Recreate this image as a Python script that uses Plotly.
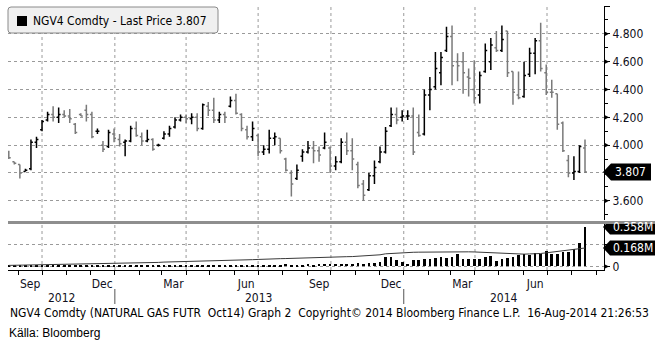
import plotly.graph_objects as go
import pandas as pd

# ---------------- data ----------------
dates = pd.date_range("2012-08-20", periods=105, freq="7D")

opens = [3.95,3.88,3.86,3.81,3.83,4.02,4.11,4.18,4.22,4.20,
         4.22,4.21,4.15,4.22,4.25,4.22,4.10,4.00,3.99,4.08,
         4.04,4.02,4.03,4.12,4.06,4.03,4.04,4.00,4.05,4.08,
         4.13,4.18,4.20,4.19,4.20,4.12,4.28,4.25,4.18,4.22,
         4.28,4.32,4.22,4.11,4.06,4.07,3.95,3.97,4.05,4.05,
         3.90,3.80,3.76,3.92,3.95,3.98,3.96,3.98,3.98,3.85,
         3.88,4.02,3.96,3.86,3.72,3.68,3.78,3.88,3.95,4.14,
         4.22,4.20,4.21,4.21,4.09,4.08,4.36,4.42,4.52,4.68,
         4.78,4.60,4.60,4.49,4.40,4.36,4.53,4.60,4.70,4.68,
         4.82,4.53,4.36,4.35,4.51,4.66,4.75,4.52,4.38,4.37,
         4.16,3.89,3.80,3.81,3.98]
highs = [3.96,3.88,3.86,3.83,4.04,4.06,4.18,4.24,4.28,4.27,
         4.25,4.26,4.16,4.23,4.29,4.24,4.12,4.03,4.11,4.12,
         4.08,4.04,4.14,4.17,4.09,4.11,4.05,4.01,4.10,4.14,
         4.20,4.22,4.22,4.23,4.23,4.30,4.31,4.34,4.24,4.24,
         4.35,4.37,4.23,4.14,4.17,4.08,4.00,4.11,4.09,4.05,
         3.91,3.82,3.86,3.97,4.03,4.03,3.99,4.09,3.99,3.92,
         4.05,4.09,4.05,3.88,3.75,3.80,3.89,3.99,4.13,4.27,
         4.27,4.25,4.25,4.27,4.22,4.40,4.49,4.67,4.67,4.85,
         4.86,4.66,4.67,4.55,4.61,4.53,4.73,4.77,4.82,4.86,
         4.82,4.53,4.53,4.60,4.70,4.77,4.88,4.58,4.47,4.37,
         4.17,3.93,3.92,4.00,4.04]
lows  = [3.90,3.86,3.76,3.81,3.82,3.98,4.10,4.17,4.17,4.16,
         4.20,4.16,4.08,4.21,4.17,4.05,4.08,3.95,3.98,4.02,
         3.99,3.92,4.02,4.06,4.00,4.02,3.96,3.99,4.04,4.06,
         4.12,4.17,4.16,4.15,4.10,4.11,4.21,4.16,4.16,4.16,
         4.27,4.22,4.10,4.04,4.03,3.92,3.93,3.94,4.00,3.94,
         3.81,3.63,3.75,3.88,3.94,3.87,3.88,3.97,3.80,3.82,
         3.87,3.93,3.82,3.69,3.60,3.67,3.72,3.87,3.94,4.13,
         4.15,4.17,4.18,3.93,4.06,4.07,4.25,4.40,4.43,4.67,
         4.43,4.46,4.37,4.35,4.30,4.30,4.52,4.54,4.67,4.67,
         4.49,4.29,4.33,4.34,4.49,4.51,4.53,4.36,4.34,4.11,
         3.95,3.77,3.75,3.80,3.80]
closes = [3.91,3.87,3.80,3.82,4.02,4.04,4.17,4.22,4.20,4.22,
          4.21,4.19,4.09,4.21,4.22,4.06,4.10,3.97,4.09,4.05,
          4.01,4.03,4.12,4.07,4.03,4.04,3.97,4.00,4.08,4.12,
          4.18,4.20,4.19,4.20,4.12,4.29,4.25,4.18,4.22,4.20,
          4.32,4.23,4.12,4.06,4.12,3.95,3.97,4.05,4.06,3.96,
          3.82,3.72,3.82,3.95,3.98,3.96,3.93,4.02,3.85,3.88,
          4.02,3.96,3.90,3.71,3.64,3.78,3.84,3.95,4.10,4.22,
          4.18,4.21,4.21,3.95,4.07,4.36,4.40,4.55,4.63,4.78,
          4.57,4.57,4.52,4.48,4.34,4.50,4.68,4.72,4.68,4.76,
          4.52,4.38,4.34,4.50,4.66,4.75,4.55,4.38,4.38,4.15,
          3.96,3.80,3.81,3.99,3.807]

volume_m = [0.005,0.006,0.005,0.007,0.006,0.008,0.006,0.007,0.008,0.007,
            0.008,0.007,0.009,0.008,0.010,0.009,0.008,0.010,0.011,0.010,
            0.012,0.010,0.014,0.011,0.013,0.012,0.015,0.010,0.013,0.014,
            0.012,0.011,0.014,0.012,0.013,0.015,0.012,0.011,0.014,0.013,
            0.012,0.014,0.015,0.013,0.016,0.014,0.012,0.018,0.015,0.017,
            0.020,0.016,0.014,0.018,0.020,0.017,0.022,0.019,0.024,0.020,
            0.022,0.026,0.024,0.030,0.025,0.028,0.035,0.038,0.090,0.085,
            0.060,0.040,0.025,0.055,0.060,0.065,0.070,0.080,0.085,0.080,
            0.090,0.110,0.070,0.065,0.065,0.070,0.085,0.095,0.050,0.065,
            0.075,0.090,0.100,0.110,0.105,0.120,0.115,0.140,0.115,0.110,
            0.130,0.130,0.160,0.210,0.358]
open_int_m = [0.010,0.011,0.011,0.012,0.012,0.013,0.013,0.014,0.014,0.015,
              0.015,0.016,0.017,0.018,0.018,0.019,0.020,0.021,0.022,0.024,
              0.025,0.027,0.028,0.030,0.031,0.033,0.035,0.037,0.040,0.041,
              0.043,0.044,0.046,0.047,0.048,0.050,0.052,0.055,0.056,0.057,
              0.058,0.059,0.060,0.061,0.062,0.064,0.067,0.068,0.070,0.071,
              0.072,0.074,0.075,0.076,0.078,0.079,0.082,0.084,0.086,0.087,
              0.088,0.089,0.090,0.092,0.095,0.098,0.102,0.106,0.115,0.119,
              0.123,0.127,0.128,0.129,0.130,0.131,0.131,0.132,0.132,0.133,
              0.133,0.134,0.134,0.133,0.132,0.130,0.127,0.125,0.122,0.119,
              0.116,0.112,0.111,0.112,0.114,0.115,0.118,0.124,0.130,0.136,
              0.142,0.148,0.153,0.158,0.168]

price_ticks = [3.6, 3.8, 4.0, 4.2, 4.4, 4.6, 4.8, 5.0]
# 3.800 is hidden behind the last-price tag in the reference
price_tick_text = ["3.600", "", "4.000", "4.200", "4.400", "4.600", "4.800", ""]
month_tick_dates = ["2012-09-16", "2012-12-16", "2013-03-16", "2013-06-16",
                    "2013-09-16", "2013-12-16", "2014-03-16", "2014-06-16"]
month_tick_text = ["Sep", "Dec", "Mar", "Jun", "Sep", "Dec", "Mar", "Jun"]
quarter_dates = ["2012-10-01", "2013-01-01", "2013-04-01", "2013-07-01",
                 "2013-10-01", "2014-01-01", "2014-04-01", "2014-07-01"]
year_labels = ["2012", "2013", "2014"]
year_label_dates = ["2012-10-25", "2013-07-02", "2014-05-08"]
year_sep_dates = ["2013-01-01", "2014-01-01"]

last_price = 3.807
last_vol_m = volume_m[-1]
last_oi_m = open_int_m[-1]

# ---------------- geometry helpers ----------------
W, H = 655, 350
L, R, T, B = 8, 51, 6, 80
PW = W - L - R
PH = H - T - B
def X(px):
    return (px - L) / PW
def Y(py):
    return (H - B - py) / PH

P_RANGE = [3.462, 5.0]
V_RANGE = [-32000, 386000]
p_per_px = (P_RANGE[1] - P_RANGE[0]) / (220 - 6)
v_per_px = (V_RANGE[1] - V_RANGE[0]) / (270 - 224)

FONT = "Tahoma, DejaVu Sans Condensed, DejaVu Sans, sans-serif"
GRID = "#9a9a9a"

fig = go.Figure()
fig.add_trace(go.Ohlc(
    x=dates, open=opens, high=highs, low=lows, close=closes,
    xaxis="x", yaxis="y",
    increasing=dict(line=dict(color="#000000", width=1.5)),
    decreasing=dict(line=dict(color="#7a7a7a", width=1.5)),
    tickwidth=0.35, showlegend=False, hoverinfo="skip"))
fig.add_trace(go.Bar(
    x=dates, y=[v * 1e6 for v in volume_m], xaxis="x2", yaxis="y2",
    marker=dict(color="#000000", line=dict(width=0)),
    width=3.4 * 86400000, showlegend=False))
fig.add_trace(go.Scatter(
    x=dates, y=[v * 1e6 for v in open_int_m], xaxis="x2", yaxis="y2",
    mode="lines", line=dict(color="#3a3a3a", width=1), showlegend=False))

xr = ["2012-08-19", "2014-09-11"]
fig.update_layout(
    width=W, height=H, margin=dict(l=L, r=R, t=T, b=B),
    paper_bgcolor="white", plot_bgcolor="white",
    font=dict(family=FONT, size=11, color="#000000"),
    bargap=0,
    xaxis=dict(domain=[0, 1], anchor="y", range=xr, matches="x2",
               showticklabels=False, showgrid=False, showline=False,
               zeroline=False, ticks="", rangeslider=dict(visible=False)),
    yaxis=dict(domain=[Y(220), 1], anchor="x", side="right", range=P_RANGE,
               tickmode="array", tickvals=price_ticks, ticktext=price_tick_text,
               showgrid=True, gridcolor=GRID, griddash="dot", gridwidth=1,
               showline=True, linecolor="#000000", linewidth=1,
               ticks="outside", ticklen=5, tickcolor="#000000",
               minor=dict(dtick=0.1, tick0=3.5, ticks="outside", ticklen=3,
                          tickcolor="#000000", showgrid=False),
               zeroline=False, tickfont=dict(size=12, color="#101020")),
    xaxis2=dict(domain=[0, 1], anchor="y2", range=xr, type="date",
                tickmode="array", tickvals=month_tick_dates, ticktext=month_tick_text,
                ticks="", showgrid=False, showline=True, linecolor="#000000",
                zeroline=False, ticklabelstandoff=3,
                tickfont=dict(size=12, color="#101020"),
                minor=dict(dtick="M1", tick0="2012-09-01", ticks="outside",
                           ticklen=4, tickcolor="#000000", showgrid=False)),
    yaxis2=dict(domain=[0, Y(224)], anchor="x2", side="right", range=V_RANGE,
                tickmode="array", tickvals=[0, 200000], ticktext=["0", ""],
                showgrid=True, gridcolor=GRID, griddash="dot",
                showline=True, linecolor="#000000", ticks="outside",
                ticklen=5, tickcolor="#000000", zeroline=False,
                tickfont=dict(size=12, color="#101020")),
)

shapes = []
for d in quarter_dates:
    for yr in ("y domain", "y2 domain"):
        shapes.append(dict(type="line", xref="x", yref=yr, x0=d, x1=d, y0=0, y1=1,
                           line=dict(color=GRID, width=1, dash="dot"), layer="below"))
shapes.append(dict(type="line", xref="paper", yref="paper", x0=X(8), x1=X(655),
                   y0=Y(222.5), y1=Y(222.5), line=dict(color="#8e8e8e", width=3)))
for v in price_ticks[:-1]:
    d = 2.6 * p_per_px
    shapes.append(dict(type="path", xref="paper", yref="y",
                       path=f"M {X(604)},{v + d} L {X(609)},{v} L {X(604)},{v - d} Z",
                       fillcolor="#000000", line=dict(width=0)))
d0 = 2.6 * v_per_px
shapes.append(dict(type="path", xref="paper", yref="y2",
                   path=f"M {X(604)},{d0} L {X(609)},0 L {X(604)},{-d0} Z",
                   fillcolor="#000000", line=dict(width=0)))
hp = 8.5 * p_per_px
shapes.append(dict(type="path", xref="paper", yref="y",
                   path=(f"M {X(603)},{last_price} L {X(611)},{last_price + hp} "
                         f"L {X(651)},{last_price + hp} L {X(651)},{last_price - hp} "
                         f"L {X(611)},{last_price - hp} Z"),
                   fillcolor="#000000", line=dict(width=0)))
for val in (last_vol_m * 1e6, last_oi_m * 1e6):
    hv = 7.5 * v_per_px
    shapes.append(dict(type="path", xref="paper", yref="y2",
                       path=(f"M {X(603)},{val} L {X(610)},{val + hv} "
                             f"L {X(656)},{val + hv} L {X(656)},{val - hv} "
                             f"L {X(610)},{val - hv} Z"),
                       fillcolor="#000000", line=dict(width=0)))
x0, x1, y0, y1, r = 8, 218, 7, 33, 3
path = (f"M {X(x0 + r)},{Y(y0)} L {X(x1 - r)},{Y(y0)} Q {X(x1)},{Y(y0)} {X(x1)},{Y(y0 + r)} "
        f"L {X(x1)},{Y(y1 - r)} Q {X(x1)},{Y(y1)} {X(x1 - r)},{Y(y1)} "
        f"L {X(x0 + r)},{Y(y1)} Q {X(x0)},{Y(y1)} {X(x0)},{Y(y1 - r)} "
        f"L {X(x0)},{Y(y0 + r)} Q {X(x0)},{Y(y0)} {X(x0 + r)},{Y(y0)} Z")
shapes.append(dict(type="path", xref="paper", yref="paper", path=path,
                   fillcolor="#f0f0f0", line=dict(color="#8a8a8a", width=1)))
shapes.append(dict(type="rect", xref="paper", yref="paper",
                   x0=X(17), x1=X(27), y0=Y(26), y1=Y(16),
                   fillcolor="#000000", line=dict(width=0)))
for d in year_sep_dates:
    shapes.append(dict(type="line", xref="x", yref="paper", x0=d, x1=d,
                       y0=Y(289), y1=Y(304), line=dict(color="#555555", width=1)))
fig.update_layout(shapes=shapes)

ann = []
ann.append(dict(xref="paper", yref="paper", x=X(31), y=Y(20.5), xanchor="left",
                yanchor="middle", showarrow=False,
                text=f"NGV4 Comdty - Last Price {last_price:.3f}",
                font=dict(size=12, color="#000000")))
ann.append(dict(xref="paper", yref="y", x=X(613), y=last_price, xanchor="left",
                yanchor="middle", showarrow=False, text=f"{last_price:.3f}",
                font=dict(size=12, color="#ffffff")))
ann.append(dict(xref="paper", yref="y2", x=X(611), y=last_vol_m * 1e6, xanchor="left",
                yanchor="middle", showarrow=False, text=f"{last_vol_m:.3f}M",
                font=dict(size=12, color="#ffffff")))
ann.append(dict(xref="paper", yref="y2", x=X(611), y=last_oi_m * 1e6, xanchor="left",
                yanchor="middle", showarrow=False, text=f"{last_oi_m:.3f}M",
                font=dict(size=12, color="#ffffff")))
for t, d in zip(year_labels, year_label_dates):
    ann.append(dict(xref="x", yref="paper", x=d, y=Y(297.5), xanchor="center",
                    yanchor="middle", showarrow=False, text=t,
                    font=dict(size=12, color="#101020")))
ann.append(dict(xref="paper", yref="paper", x=X(8), y=Y(312.5), xanchor="left",
                yanchor="middle", showarrow=False,
                text=("NGV4 Comdty (NATURAL GAS FUTR\u00a0\u00a0Oct14) Graph 2\u00a0\u00a0"
                      "Copyright\u00a9 2014 Bloomberg Finance L.P.\u00a0\u00a016-Aug-2014 21:26:53"),
                font=dict(size=12, color="#000000")))
ann.append(dict(xref="paper", yref="paper", x=X(7), y=Y(333), xanchor="left",
                yanchor="middle", showarrow=False, text="Källa: Bloomberg",
                font=dict(family="Liberation Sans Narrow, Liberation Sans, sans-serif",
                          size=12, color="#000000")))
fig.update_layout(annotations=ann)

fig.write_html("out.html")
